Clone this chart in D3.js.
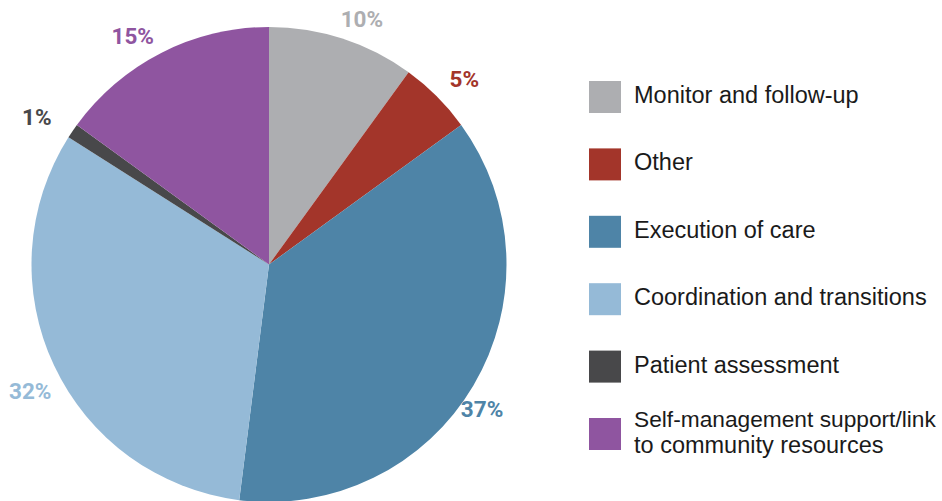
<!DOCTYPE html>
<html>
<head>
<meta charset="utf-8">
<script src="https://cdn.jsdelivr.net/npm/d3@7"></script>
<style>
  html, body { margin: 0; padding: 0; background: #fff; }
  svg { display: block; }
</style>
</head>
<body>
<script>
// ---- data ----
const categories = [
  "Monitor and follow-up",
  "Other",
  "Execution of care",
  "Coordination and transitions",
  "Patient assessment",
  "Self-management support/link to community resources"
];
const legendLines = [
  ["Monitor and follow-up"],
  ["Other"],
  ["Execution of care"],
  ["Coordination and transitions"],
  ["Patient assessment"],
  ["Self-management support/link", "to community resources"]
];
const values = [10, 5, 37, 32, 1, 15];
const colors = ["#adaeb1", "#a3352a", "#4e84a7", "#95bad7", "#48484a", "#8f55a0"];

// ---- layout ----
const W = 942, H = 501;
const cx = 269, cy = 264.5, R = 237.5;
const labelR = 265;
// small hand-placement nudges for labels (layout only)
const labelNudge = [[11, 6], [8, 2], [-15, 10], [1, 14], [-13, 1.5], [-16, 8]];

const svg = d3.select("body").append("svg")
  .attr("width", W).attr("height", H);

const data = categories.map((c, i) => ({ cat: c, value: values[i], i }));

const pie = d3.pie().value(d => d.value).sort(null);
const arcs = pie(data);
const arc = d3.arc().innerRadius(0).outerRadius(R);
const labelArc = d3.arc().innerRadius(labelR).outerRadius(labelR);

const g = svg.append("g").attr("transform", `translate(${cx},${cy})`);
g.selectAll("path").data(arcs).enter().append("path")
  .attr("d", arc)
  .attr("fill", d => colors[d.data.i]);

g.selectAll("text.lbl").data(arcs).enter().append("text")
  .attr("class", "lbl")
  .attr("x", d => labelArc.centroid(d)[0] + labelNudge[d.data.i][0])
  .attr("y", d => labelArc.centroid(d)[1] + labelNudge[d.data.i][1])
  .attr("dy", "0.36em")
  .attr("text-anchor", "middle")
  .attr("font-family", "Roboto, 'Liberation Sans', sans-serif")
  .attr("font-weight", "bold")
  .attr("font-size", 22.5)
  .attr("fill", d => colors[d.data.i])
  .text(d => d.data.value + "%");

// ---- legend ----
const legX = 589, textX = 45, maxTextW = 936 - (legX + textX);
const baseFs = 23.5;
const legY = d3.scalePoint().domain(d3.range(categories.length)).range([97, 434]);
const leg = svg.append("g");
const items = leg.selectAll("g").data(data).enter().append("g")
  .attr("transform", d => `translate(${legX},${legY(d.i)})`);
items.append("rect")
  .attr("x", 0).attr("y", -16).attr("width", 32).attr("height", 32)
  .attr("fill", d => colors[d.i]);
items.each(function(d) {
  const lines = legendLines[d.i];
  const sel = d3.select(this);
  const lh = 26;
  const y0 = 6 - (lines.length - 1) * lh / 2;
  lines.forEach((ln, k) => {
    const t = sel.append("text")
      .attr("x", textX).attr("y", y0 + k * lh)
      .attr("font-family", "'Liberation Sans', Arial, sans-serif")
      .attr("font-size", baseFs)
      .attr("fill", "#1a1a1a")
      .text(ln);
    const len = t.node().getComputedTextLength();
    if (len > maxTextW) {
      t.attr("font-size", baseFs * maxTextW / len);
    }
  });
});
</script>
</body>
</html>
